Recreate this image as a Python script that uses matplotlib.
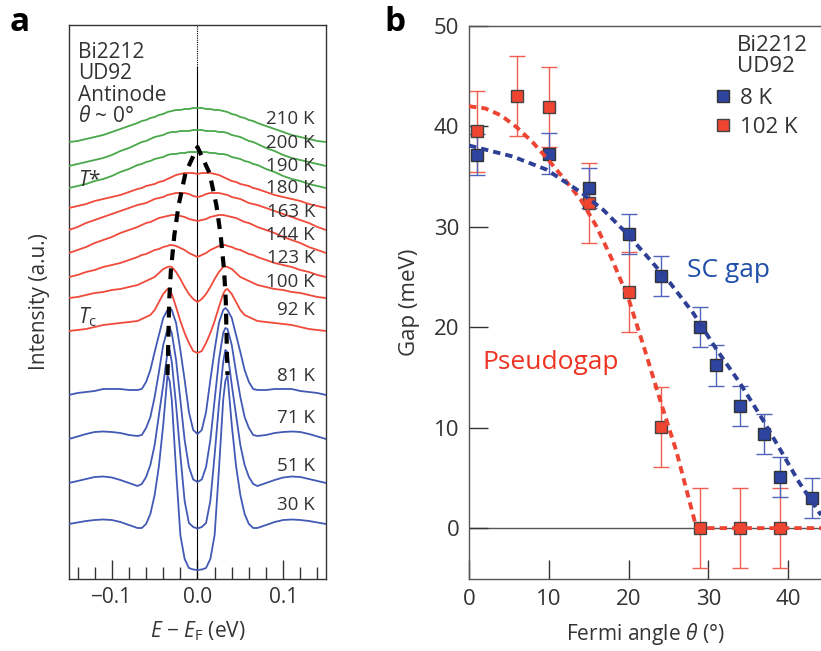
import matplotlib
matplotlib.use("Agg")
import matplotlib.pyplot as plt
import numpy as np
from matplotlib.lines import Line2D

plt.rcParams['font.family'] = ['Open Sans', 'DejaVu Sans']
plt.rcParams['mathtext.fontset'] = 'custom'
plt.rcParams['mathtext.it'] = 'Open Sans:italic'
plt.rcParams['mathtext.rm'] = 'Open Sans'
plt.rcParams['mathtext.bf'] = 'Open Sans:bold'

TXT = '#333333'

# ---- panel a: symmetrized EDCs (E >= 0 half, mirrored about E_F) ----
energy = [0, .005, .01, .015, .02, .025, .03, .0325, .035, .04, .045, .05,
          .055, .06, .065, .07, .08, .09, .10, .11, .12, .13, .14, .15]
temps = ['210 K', '200 K', '190 K', '180 K', '163 K', '144 K', '123 K',
         '100 K', '92 K', '81 K', '71 K', '51 K', '30 K']
edc_210 = [471, 471, 470, 470, 469, 469, 468, 467.5, 467, 465, 464, 462, 461, 459, 458, 456, 453, 450, 447, 444, 442, 440, 438, 437]
edc_200 = [449, 449, 448, 448, 448, 447, 447, 446.5, 446, 444, 443, 442, 440, 438, 437, 435, 431, 428, 424, 421, 419, 417, 415, 413]
edc_190 = [427, 427, 427, 426, 426, 425, 425, 424.5, 424, 422, 421, 420, 418, 417, 415, 414, 410, 407, 403, 400, 398, 395, 393, 391]
edc_180 = [405, 406, 406, 406, 405, 404, 402, 401, 400, 398, 397, 395, 394, 393, 391, 390, 387, 384, 382, 380, 378, 375, 373, 371]
edc_163 = [382, 383, 385, 386, 386, 386, 385, 384.5, 384, 382, 381, 380, 378, 376, 375, 374, 371, 368, 365, 362, 359, 356, 352, 349]
edc_144 = [358, 359, 360, 362, 363, 364, 364, 363.5, 363, 362, 361, 359, 357, 356, 354, 352, 349, 346, 342, 339, 336, 332, 329, 326]
edc_123 = [322, 324, 326, 329, 331, 333, 334, 334, 333, 332, 330, 329, 327, 325, 324, 322, 319, 316, 314, 312, 309, 307, 304, 302]
edc_100 = [277, 280, 285, 292, 300, 307, 312, 312.5, 312, 310, 306, 302, 300, 298, 296, 294, 292, 290, 289, 287, 286, 284, 282, 281]
edc_92 = [226, 228, 236, 246, 258, 272, 285, 289, 290, 285, 277, 269, 264, 262, 260, 258, 257, 256, 255, 254, 252, 250, 249, 248]
edc_81 = [145, 149, 167, 199, 229, 256, 269, 271, 269, 261, 244, 227, 209, 197, 190, 189, 189, 190, 190, 190, 188, 187, 186, 184]
edc_71 = [97, 99.5, 112, 139, 179, 219, 246, 251, 250, 234, 207, 182, 162, 151, 144, 143, 144, 146, 147, 147.5, 147, 145, 142.5, 140]
edc_51 = [50.5, 52, 56, 78, 124, 174, 217, 229, 227, 194, 164, 134, 114, 102, 95, 93, 96, 99, 101.5, 102.5, 102, 100, 98, 96]
edc_30 = [9, 9.5, 11, 20, 44, 109, 179, 198, 204, 154, 113, 84, 65, 55, 51, 51, 54, 57, 59, 59.5, 59, 58, 56.5, 55]
edcs = [edc_210, edc_200, edc_190, edc_180, edc_163, edc_144, edc_123,
        edc_100, edc_92, edc_81, edc_71, edc_51, edc_30]
label_y = [460, 436, 413, 391, 367, 344, 321, 297, 269, 203, 161, 113, 74]

# peak positions (black dashed guide)
peak_E = [0.0, 0.014, 0.022, 0.027, 0.031, 0.033, 0.034, 0.035]
peak_I = [432, 406, 374, 344, 309, 279, 240, 204]

GREEN = '#4aa84a'
RED = '#ef4a3a'
BLUE = '#4259b5'
edc_colors = [GREEN] * 3 + [RED] * 6 + [BLUE] * 4

# ---- panel b: gap vs Fermi angle ----
sc_theta = [1, 10, 15, 20, 24, 29, 31, 34, 37, 39, 43]
sc_gap = [37.2, 37.3, 33.9, 29.3, 25.1, 20.0, 16.2, 12.2, 9.4, 5.1, 3.0]
sc_err = [2] * len(sc_theta)
pg_theta = [1, 6, 10, 15, 20, 24, 29, 34, 39]
pg_gap = [39.5, 43.0, 41.9, 32.4, 23.5, 10.1, 0, 0, 0]
pg_err = [4] * len(pg_theta)

sc_fit_theta = [0, 5.5, 9.7, 13.9, 16.8, 19.7, 22.7, 25.2, 28.1, 31, 33.9, 36.8, 39, 41.4, 44.1]
sc_fit_gap = [38.1, 37.0, 35.7, 33.5, 31.7, 29.4, 26.7, 24.4, 21.4, 17.8, 14.5, 10.8, 7.8, 4.5, 1.3]
pg_fit_theta = [0, 2, 4, 6, 8, 10, 12, 14, 16, 18, 20, 22, 24, 26, 28.5, 44.1]
pg_fit_gap = [42.0, 41.8, 41.1, 39.9, 38.4, 36.6, 34.7, 32.7, 30.0, 26.6, 22.8, 17.8, 12.6, 7.6, 0.0, 0.0]

fig = plt.figure(figsize=(8.21, 6.51), dpi=100)

# ================= panel a =================
axa = fig.add_axes([0.0840, 0.1106, 0.3131, 0.851])
E = np.array(energy)
x_full = np.concatenate([-E[::-1], E[1:]])
for I, c in zip(edcs, edc_colors):
    I = np.array(I, dtype=float)
    axa.plot(x_full, np.concatenate([I[::-1], I[1:]]), color=c, lw=1.3, zorder=3)

pE = np.array(peak_E)
pI = np.array(peak_I)
axa.plot(np.concatenate([-pE[::-1], pE[1:]]), np.concatenate([pI[::-1], pI[1:]]),
         color='k', lw=3.0, dashes=(2.6, 2.0), zorder=4, solid_capstyle='butt')

axa.axvline(0, ymin=0, ymax=0.924, color='k', lw=0.8, zorder=2)
axa.axvline(0, ymin=0.924, ymax=1, color='k', lw=0.8, ls=(0, (1, 1)), zorder=2)

for t, y in zip(temps, label_y):
    axa.text(0.137, y, t, ha='right', va='center', fontsize=13.5, color=TXT, zorder=5)

axa.text(-0.139, 537, 'Bi2212\nUD92\nAntinode\n$\\theta$ ~ 0°', ha='left', va='top',
         fontsize=15, color=TXT, linespacing=1.02)
axa.text(-0.139, 398, '$T$*', ha='left', va='center', fontsize=15, color=TXT)
axa.text(-0.139, 262, '$T_\\mathrm{c}$', ha='left', va='center', fontsize=15, color=TXT)

axa.set_xlim(-0.15, 0.15)
axa.set_ylim(0, 554)
axa.set_yticks([])
axa.set_xticks([-0.1, 0.0, 0.1])
axa.set_xticklabels(['\u22120.1', '0.0', '0.1'])
axa.set_xticks(np.arange(-0.14, 0.141, 0.02), minor=True)
axa.tick_params(axis='x', which='major', direction='in', length=14, width=1,
                labelsize=15, labelcolor=TXT, pad=6, color='#333333')
axa.tick_params(axis='x', which='minor', direction='in', length=8.5, width=1, color='#333333')
for s in axa.spines.values():
    s.set_color('#333333')
    s.set_linewidth(1)
axa.set_xlabel('$E$ \u2212 $E_\\mathrm{F}$ (eV)', fontsize=15, color=TXT, labelpad=8)
axa.set_ylabel('Intensity (a.u.)', fontsize=15, color=TXT, labelpad=14)

# ================= panel b =================
axb = fig.add_axes([0.5713, 0.1101, 0.4287, 0.850])
axb.axhline(0, color='#555555', lw=1, zorder=1)

SQ_BLUE = '#2d44a0'
SQ_RED = '#ee4430'
axb.errorbar(pg_theta, pg_gap, yerr=pg_err, fmt='none', ecolor='#f0604f', elinewidth=1,
             capsize=6, capthick=1, zorder=2)
axb.errorbar(sc_theta, sc_gap, yerr=sc_err, fmt='none', ecolor='#5064bb', elinewidth=1,
             capsize=6, capthick=1, zorder=2)
axb.plot(sc_theta, sc_gap, 's', ms=8.5, mfc=SQ_BLUE, mec='#333333', mew=1, zorder=3)
axb.plot(pg_theta, pg_gap, 's', ms=8.5, mfc=SQ_RED, mec='#444444', mew=1, zorder=3)

axb.plot(pg_fit_theta, pg_fit_gap, color='#ee4433', lw=2.8, dashes=(1.9, 1.3), zorder=4)
axb.plot(sc_fit_theta, sc_fit_gap, color='#2e3f96', lw=2.8, dashes=(1.9, 1.3), zorder=4)

axb.text(27.3, 25.7, 'SC gap', color='#1f4fa8', fontsize=19, ha='left', va='center')
axb.text(1.7, 16.5, 'Pseudogap', color='#ee3322', fontsize=19, ha='left', va='center')

# legend: header text aligned with the entry labels
axb.text(33.6, 49.1, 'Bi2212\nUD92', ha='left', va='top', fontsize=16, color=TXT,
         linespacing=1.0)
handles = [Line2D([], [], marker='s', ls='none', mfc=SQ_BLUE, mec='#333333', ms=9),
           Line2D([], [], marker='s', ls='none', mfc=SQ_RED, mec='#444444', ms=9)]
leg = axb.legend(handles, ['8 K', '102 K'], loc='upper left',
                 bbox_to_anchor=(0.697, 0.888), frameon=False, fontsize=16,
                 handlelength=0.8, handletextpad=0.35,
                 labelspacing=0.35, borderpad=0, borderaxespad=0)
for t in leg.get_texts():
    t.set_color(TXT)

axb.set_xlim(0, 44.1)
axb.set_ylim(-5.1, 50)
axb.set_xticks([0, 10, 20, 30, 40])
axb.set_yticks([0, 10, 20, 30, 40, 50])
axb.tick_params(direction='in', length=14, width=1, labelsize=16, labelcolor=TXT,
                color='#333333', pad=7)
axb.spines['right'].set_visible(False)
for s in ['left', 'top', 'bottom']:
    axb.spines[s].set_color('#555555')
    axb.spines[s].set_linewidth(1)
axb.set_xlabel('Fermi angle $\\theta$ (°)', fontsize=15, color=TXT, labelpad=8)
axb.set_ylabel('Gap (meV)', fontsize=16, color=TXT, labelpad=10)

fig.text(0.012, 0.965, 'a', fontsize=24, fontweight='bold', ha='left', va='center')
fig.text(0.468, 0.965, 'b', fontsize=24, fontweight='bold', ha='left', va='center')

fig.savefig('out.png', dpi=100)
